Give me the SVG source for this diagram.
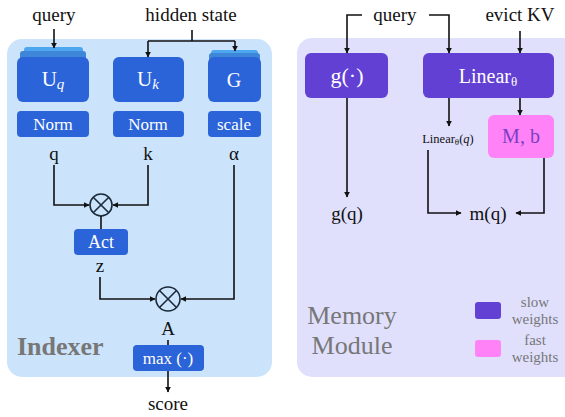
<svg xmlns="http://www.w3.org/2000/svg" width="565" height="417" viewBox="0 0 565 417">
<style>
text{font-family:"Liberation Serif","DejaVu Serif",serif;}
.lbl{font-size:19px;fill:#111;text-anchor:middle;}
.bt{fill:#fff;text-anchor:middle;}
.blue{fill:#2b63d9;}
.purple{fill:#6340d4;}
.pink{fill:#ff82f6;}
.ln{fill:none;stroke:#111;stroke-width:1.6;}
.gray{fill:#777;}
</style>
<defs>
<marker id="ah" viewBox="0 0 10 10" refX="9" refY="5" markerWidth="6" markerHeight="6" orient="auto" markerUnits="userSpaceOnUse">
<path d="M0,0 L10,5 L0,10 z" fill="#111"/>
</marker>
</defs>
<g id="indexer">
<rect x="7" y="39" width="265" height="338" rx="15" fill="#cce4fb"/>
<text x="17" y="355" class="gray" font-size="26" font-weight="bold">Indexer</text>
</g>
<g id="memory">
<rect x="297" y="38" width="280" height="339" rx="15" fill="#e0e0fd"/>
<text x="352" y="324" class="gray" font-size="26" text-anchor="middle">Memory</text>
<text x="352" y="354" class="gray" font-size="26" text-anchor="middle">Module</text>
</g>
<g id="Uq">
<rect x="24" y="47" width="59" height="12" rx="3" fill="#4da6f0"/>
<rect x="20" y="51" width="66" height="10" rx="3" fill="#3d86d8"/>
<rect x="17" y="57" width="72" height="45" rx="6" class="blue"/>
<text x="53" y="86" class="bt" font-size="21">U<tspan font-size="15" font-style="italic" dy="3">q</tspan></text>
</g>
<g id="Uk">
<rect x="113" y="57" width="71" height="45" rx="6" class="blue"/>
<text x="148" y="86" class="bt" font-size="21">U<tspan font-size="15" font-style="italic" dy="3">k</tspan></text>
</g>
<g id="G">
<rect x="211" y="50" width="47" height="10" rx="3" fill="#4da6f0"/>
<rect x="209" y="53" width="51" height="8" rx="3" fill="#3d86d8"/>
<rect x="208" y="57" width="53" height="45" rx="6" class="blue"/>
<text x="234" y="87" class="bt" font-size="20">G</text>
</g>
<g id="normq">
<rect x="17" y="111" width="72" height="26" rx="4" class="blue"/>
<text x="53" y="130" class="bt" font-size="17">Norm</text>
</g>
<g id="normk">
<rect x="113" y="111" width="71" height="26" rx="4" class="blue"/>
<text x="148" y="130" class="bt" font-size="17">Norm</text>
</g>
<g id="scale">
<rect x="208" y="111" width="53" height="26" rx="4" class="blue"/>
<text x="234" y="130" class="bt" font-size="17">scale</text>
</g>
<g id="mult1">
<circle cx="101" cy="205" r="11" fill="none" stroke="#1a2a3a" stroke-width="1.6"/>
<path d="M93.2,197.2 L108.8,212.8 M108.8,197.2 L93.2,212.8" stroke="#1a2a3a" stroke-width="1.6"/>
</g>
<g id="act">
<rect x="74" y="229" width="54" height="26" rx="4" class="blue"/>
<text x="101" y="248" class="bt" font-size="18">Act</text>
</g>
<g id="mult2">
<circle cx="168" cy="299" r="12" fill="none" stroke="#1a2a3a" stroke-width="1.6"/>
<path d="M159.5,290.5 L176.5,307.5 M176.5,290.5 L159.5,307.5" stroke="#1a2a3a" stroke-width="1.6"/>
</g>
<g id="max">
<rect x="133" y="345" width="71" height="26" rx="4" class="blue"/>
<text x="168" y="364" class="bt" font-size="17">max (·)</text>
</g>
<g id="gbox">
<rect x="305" y="53" width="83" height="45" rx="6" class="purple"/>
<text x="347" y="83" class="bt" font-size="22">g(·)</text>
</g>
<g id="linear">
<rect x="423" y="53" width="131" height="45" rx="6" class="purple"/>
<text x="488" y="83" class="bt" font-size="20">Linear<tspan font-size="13" dy="3">θ</tspan></text>
</g>
<g id="Mb">
<rect x="488" y="115" width="66" height="43" rx="6" class="pink"/>
<text x="521" y="143" font-size="20" fill="#7a3fc2" text-anchor="middle">M, b</text>
</g>
<g id="legend">
<rect x="475" y="302" width="26" height="17" rx="3" class="purple"/>
<rect x="475" y="340" width="26" height="17" rx="3" class="pink"/>
<text x="535" y="307" class="gray" font-size="15" text-anchor="middle">slow</text>
<text x="535" y="324" class="gray" font-size="15" text-anchor="middle">weights</text>
<text x="535" y="345" class="gray" font-size="15" text-anchor="middle">fast</text>
<text x="535" y="362" class="gray" font-size="15" text-anchor="middle">weights</text>
</g>
<g id="labels">
<text x="54" y="21" class="lbl">query</text>
<text x="191" y="21" class="lbl">hidden state</text>
<text x="395" y="21" class="lbl">query</text>
<text x="520" y="21" class="lbl">evict KV</text>
<text x="54" y="160" class="lbl">q</text>
<text x="148" y="160" class="lbl">k</text>
<text x="234" y="160" class="lbl">α</text>
<text x="100" y="272" class="lbl">z</text>
<text x="168" y="335" class="lbl">A</text>
<text x="168" y="410" class="lbl">score</text>
<text x="448" y="143" font-size="12.5" fill="#111" text-anchor="middle">Linear<tspan font-size="9" dy="2">θ</tspan><tspan dy="-2">(</tspan><tspan font-style="italic">q</tspan>)</text>
<text x="347" y="220" class="lbl">g(q)</text>
<text x="488" y="220" class="lbl">m(q)</text>
</g>
<g id="connectors">
<path class="ln" d="M54,29 V48" marker-end="url(#ah)"/>
<path class="ln" d="M192,30 V41"/>
<path class="ln" d="M148,41 H235"/>
<path class="ln" d="M148,41 V57" marker-end="url(#ah)"/>
<path class="ln" d="M235,41 V51" marker-end="url(#ah)"/>
<path class="ln" d="M54,165 V205 H89" marker-end="url(#ah)"/>
<path class="ln" d="M148,165 V205 H113" marker-end="url(#ah)"/>
<path class="ln" d="M101,216 V229"/>
<path class="ln" d="M100,277 V299 H155" marker-end="url(#ah)"/>
<path class="ln" d="M234,165 V299 H181" marker-end="url(#ah)"/>
<path class="ln" d="M168,340 V345"/>
<path class="ln" d="M168,371 V392" marker-end="url(#ah)"/>
<path class="ln" d="M362,15 H347 V53" marker-end="url(#ah)"/>
<path class="ln" d="M429,15 H449 V53" marker-end="url(#ah)"/>
<path class="ln" d="M520,31 V53" marker-end="url(#ah)"/>
<path class="ln" d="M449,98 V126" marker-end="url(#ah)"/>
<path class="ln" d="M520,98 V115" marker-end="url(#ah)"/>
<path class="ln" d="M347,98 V197" marker-end="url(#ah)"/>
<path class="ln" d="M428,150 V213 H461" marker-end="url(#ah)"/>
<path class="ln" d="M544,158 V213 H516" marker-end="url(#ah)"/>
</g>
</svg>
